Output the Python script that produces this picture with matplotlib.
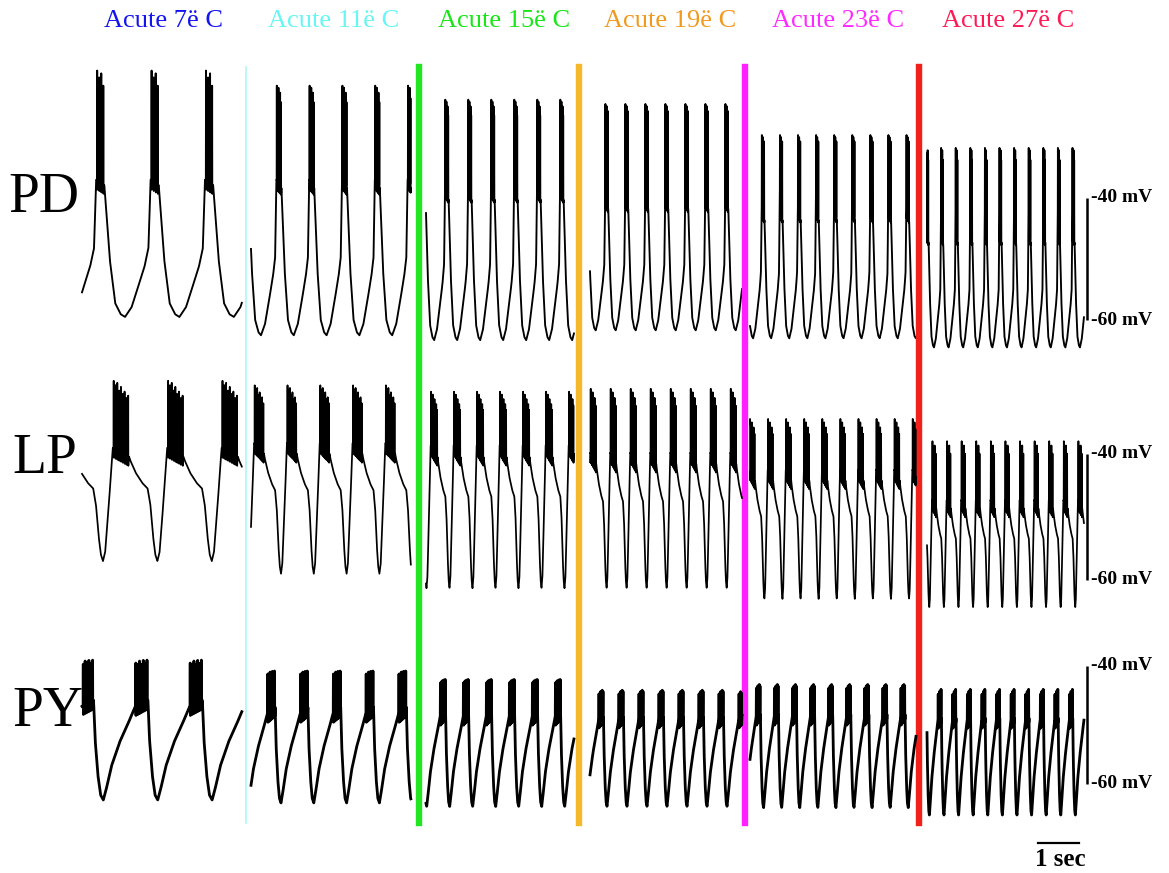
import matplotlib.pyplot as plt
import numpy as np

plt.rcParams['font.family'] = ['Liberation Serif', 'DejaVu Serif']

# ---- data ----
temps = [7, 11, 15, 19, 23, 27]
title_colors = ['#1414f0', '#6af5f5', '#18e618', '#f09a20', '#ff2aff', '#ff1a55']
rec_dur = [3.90, 3.90, 3.61, 3.71, 4.05, 3.83]          # s shown per temperature
period = [1.327, 0.800, 0.561, 0.488, 0.441, 0.356]     # cycle period (s)

# time of first trough after the start of each recording (s)
pd_first = [1.049, 0.244, 0.200, 0.139, 0.076, 0.171]
lp_first = [0.512, 0.732, 0.012, 0.405, 0.351, 0.056]
py_first = [0.520, 0.732, 0.017, 0.415, 0.332, 0.059]

# trough, burst plateau and spike top (mV)
pd_trough = [-59.5, -62.5, -63.3, -61.7, -63.0, -64.5]
pd_plateau = [-37.0, -37.0, -38.3, -40.0, -41.7, -45.5]
pd_top = [-19.0, -21.5, -23.8, -24.5, -29.6, -31.7]
pd_nspk = [4, 6, 6, 5, 5, 4]

lp_trough = [-57.0, -59.0, -61.3, -61.3, -63.0, -64.3]
lp_plateau = [-39.0, -38.3, -38.6, -39.8, -42.5, -47.3]
lp_top = [-28.3, -29.0, -30.0, -29.5, -34.3, -37.8]
lp_nspk = [9, 8, 8, 6, 6, 4]

py_trough = [-62.7, -63.2, -63.8, -63.8, -64.0, -65.3]
py_plateau = [-45.8, -47.0, -47.5, -48.0, -47.5, -48.0]
py_top = [-38.4, -40.3, -41.8, -43.7, -42.7, -43.7]
py_nspk = [7, 7, 7, 6, 6, 5]

# one cycle of each neuron (phase from trough, 0 = trough level, 1 = plateau)
pd_phase = [0, 0.12, 0.21, 0.28, 0.36, 0.43, 0.47, 0.62, 0.67, 0.72, 0.82, 0.92, 1.0]
pd_shape = [0, 0.07, 0.18, 0.27, 0.37, 0.50, 1.0, 0.96, 0.69, 0.42, 0.10, 0.02, 0]
pd_burst = (0.47, 0.62)

lp_phase = [0, 0.04, 0.09, 0.14, 0.18, 0.48, 0.50, 0.60, 0.72, 0.82, 0.87, 0.92, 0.96, 1.0]
lp_shape = [0, 0.08, 0.39, 0.72, 1.0, 0.92, 0.89, 0.78, 0.69, 0.64, 0.50, 0.22, 0.06, 0]
lp_burst = (0.18, 0.48)

py_phase = [0, 0.05, 0.15, 0.30, 0.45, 0.58, 0.82, 0.85, 0.90, 0.95, 1.0]
py_shape = [0, 0.10, 0.34, 0.58, 0.76, 0.93, 1.0, 0.60, 0.25, 0.05, 0]
py_burst = (0.58, 0.82)

spike_rel = [1.0, 0.95, 1.0, 0.9, 0.97, 0.88, 0.93, 0.85, 0.9]

# ---- layout (pixels of the 1169x873 figure) ----
W, H = 1169, 873
px_per_s = 41.0
seg_x0 = [82, 251, 426, 590, 750, 927]
title_x = [163, 334, 504, 670, 838, 1008]
sep_x = [246, 419, 579, 745, 918.5]
sep_colors = ['#a6f5f5', '#22e622', '#f5b82a', '#ff22ff', '#f0201a']
sep_lw = [1.1, 4.6, 4.6, 4.6, 4.6]
bar_x = 1087


def build(first, per, dur, trough, plateau, top, nspk, phase_t, shape_t, burst):
    t = np.arange(0, dur, 0.002)
    w = 0.004
    spk = []
    ncyc = int(dur / per) + 2
    for c in range(-1, ncyc):
        tc = first + c * per
        b0 = tc + burst[0] * per
        b1 = tc + burst[1] * per
        for k in range(nspk):
            spk.append((b0 + (k + 0.5) / nspk * (b1 - b0), k))
    extra = [s + d for s, _ in spk for d in (-w, 0, w, 3 * w)]
    t = np.sort(np.concatenate([t, extra]))
    t = t[(t >= 0) & (t <= dur)]
    ph = ((t - first) / per) % 1.0
    v = trough + np.interp(ph, phase_t, shape_t) * (plateau - trough)
    for ts, k in spk:
        amp = (top - plateau) * spike_rel[k]
        v += np.interp(t, [ts - w, ts, ts + w, ts + 3 * w], [0, amp, -1.5, 0],
                       left=0, right=0)
    return t, v


fig = plt.figure(figsize=(W / 100, H / 100), dpi=100)

rows = [
    ('PD', 44, 198, 198, 320, pd_first, pd_trough, pd_plateau, pd_top, pd_nspk,
     pd_phase, pd_shape, pd_burst, 1.35),
    ('LP', 45, 459, 454, 580, lp_first, lp_trough, lp_plateau, lp_top, lp_nspk,
     lp_phase, lp_shape, lp_burst, 1.25),
    ('PY', 48, 712, 666, 784, py_first, py_trough, py_plateau, py_top, py_nspk,
     py_phase, py_shape, py_burst, 2.0),
]

axes = []
for (name, lx, ly, p40, p60, first, trough, plateau, top, nspk,
     phase_t, shape_t, burst, lw) in rows:
    ax = fig.add_axes([0, 0, 1, 1])
    ax.patch.set_alpha(0)
    k = 20.0 / (p60 - p40)
    ax.set_xlim(0, W / px_per_s)
    ax.set_ylim(-40 - (H - p40) * k, -40 + p40 * k)
    ax.axis('off')
    for i in range(len(temps)):
        t, v = build(first[i], period[i], rec_dur[i], trough[i], plateau[i],
                     top[i], nspk[i], phase_t, shape_t, burst)
        ax.plot(seg_x0[i] / px_per_s + t, v, color='black', lw=lw)
    # 20 mV scale bar
    bx = bar_x / px_per_s
    ax.plot([bx, bx], [-60, -40], color='black', lw=1.8, solid_capstyle='butt')
    ax.text(bx + 4 / px_per_s, -40, '-40 mV', ha='left', va='center',
            fontsize=14, fontweight='bold')
    ax.text(bx + 4 / px_per_s, -60, '-60 mV', ha='left', va='center',
            fontsize=14, fontweight='bold')
    fig.text(lx / W, 1 - ly / H, name, ha='center', va='center', fontsize=40)
    axes.append(ax)

# temperature separators
for x, c, lw in zip(sep_x, sep_colors, sep_lw):
    axes[0].axvline(x / px_per_s, ymin=1 - 823 / H, ymax=1 - 67 / H, color=c, lw=lw)

# titles
for T, c, x in zip(temps, title_colors, title_x):
    fig.text(x / W, 1 - 21 / H, f'Acute {T}ë C', color=c, ha='center',
             va='center', fontsize=19)

# 1 s time bar
ax = axes[2]
k = 20.0 / (784 - 666)
yb = -40 - (843 - 666) * k
ax.plot([1038 / px_per_s, 1038 / px_per_s + 1.0], [yb, yb], color='black', lw=1.6)
fig.text(1060 / W, 1 - 859 / H, '1 sec', ha='center', va='center',
         fontsize=18, fontweight='bold')

fig.savefig('out.png', dpi=100)
